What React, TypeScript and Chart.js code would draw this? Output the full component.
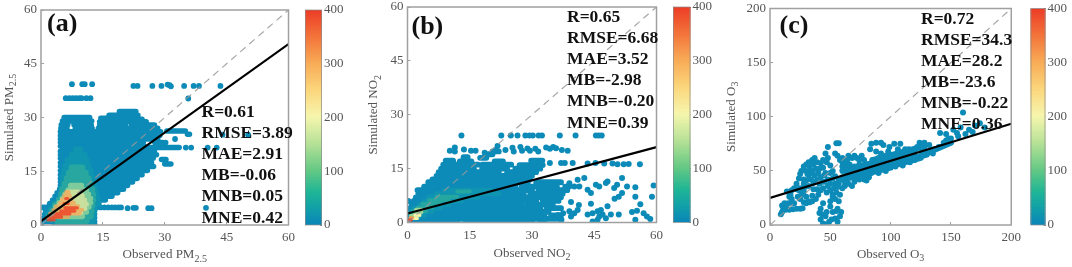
import React, { useEffect, useRef } from "react";
import { Chart, registerables } from "chart.js";

Chart.register(...registerables);

// ---------- colour scale ----------
const colorbarStops: [number, string][] = [
  [0, "#0b86b8"], [30, "#12a0a8"], [60, "#1fb596"], [100, "#63c884"], [150, "#b5e196"],
  [200, "#f6f6ae"], [250, "#fbd67c"], [300, "#f8ab57"], [350, "#f3733a"], [400, "#ec3b26"],
];
const colorbarTicks = [0, 100, 200, 300, 400];
const colorbarSegments = 100;

// ---------- panel (a) PM2.5: rows of dense dots [y, xFrom, xTo] ----------
const aBlueRows: number[][] = [
  [31.7, 19, 23], [30.6, 16.5, 23.5], [30, 5.6, 11.8], [29.8, 14.5, 18], [29.5, 19, 24.5],
  [29, 5.2, 12.3], [28.8, 14.2, 25.5], [28, 4.9, 6.5], [28, 8, 12.2], [27.9, 14.2, 20.5], [27.9, 22, 27.5],
  [27, 4.8, 6.3], [27, 8.3, 12.4], [27, 13.9, 28.3], [26, 4.7, 29], [25, 4.7, 28.8], [26.2, 30.5, 35], [25.3, 35.5, 36],
  [24, 4.7, 28.3], [23, 4.7, 24.8], [23, 27.6, 29.5], [22, 4.7, 25], [21.6, 25, 33.5],
  [20.6, 4.7, 27.5], [19.6, 4.7, 28], [18.6, 4.7, 27.2], [18.3, 29.2, 30.3], [17.4, 4.7, 26.8], [17, 30, 31.5],
  [16.3, 4.7, 27.3], [15.2, 4.7, 25.8], [14, 4.7, 24.5], [13, 4.7, 23.3], [12, 4.7, 22.2], [11, 4.7, 21],
  [10, 4.5, 20], [9, 3.9, 18.6], [8, 3.4, 17.2], [7, 2.8, 15.6], [6, 2.1, 14], [5, 1.6, 13], [4, 1.1, 13],
  [3, 0.9, 13], [2, 0.7, 13], [1, 1.2, 13], [0.3, 3.2, 13],
];
const aTealRows: number[][] = [
  [21, 8.5, 9.5], [19.5, 7.5, 10.5], [18, 6.5, 11], [16.5, 6, 11.5], [15, 5.6, 12], [13.5, 5.3, 12.3], [12, 5.2, 12.8],
  [10.5, 5, 13], [9, 4.8, 13.3], [7.5, 4.4, 13.6], [6, 3.4, 14], [4.5, 2.4, 13], [3, 1.6, 12.8], [1.5, 1.8, 12.5], [0.5, 4, 12.4],
];
const aGreenRows: number[][] = [
  [16, 7.5, 10], [14.5, 6.8, 10.8], [13, 6.3, 11.5], [11.5, 5.8, 12], [10, 5.2, 12.4], [8.5, 5, 12.6],
  [7, 4.4, 12.6], [5.5, 3.4, 12.4], [4, 2.8, 12.2], [2.5, 2.6, 12], [1.2, 4, 11],
];
const aPaleRows: number[][] = [
  [11, 7.2, 9.8], [9.8, 6.6, 11], [8.6, 5.8, 11.5], [7.4, 5.2, 12], [6.2, 4.4, 12], [5, 3.6, 11.6], [3.6, 3.6, 11], [2.4, 4.4, 10],
];
const aYellowRows: number[][] = [
  [9.2, 6.4, 9], [8.2, 6, 10], [7, 5.2, 10.6], [5.8, 4.6, 11], [4.6, 4.4, 10.6], [3.4, 5.6, 9.6],
];
const aOrangeRows: number[][] = [
  [9.2, 6.1, 6.7], [8.2, 5.6, 7], [7.2, 5.1, 7.4], [6.2, 4.6, 8], [5.2, 3.6, 9], [4.2, 3, 10], [3.2, 2.2, 9.4], [2.2, 1.6, 6.6],
];
const aRedRows: number[][] = [
  [7.4, 6, 6.5], [6, 5.6, 6.6], [4.8, 5.8, 8.8], [3.9, 4.8, 8.2], [3.1, 3.4, 7], [2.2, 2.2, 5], [1.4, 1.7, 3.2],
];
const aLoosePoints: number[][] = [
  [7.5, 39.3], [10, 39.3], [10.6, 39.3], [12.4, 39.3], [6, 35.4], [6.9, 35.4], [7.7, 35.4], [8.5, 35.4], [9.3, 35.4], [9.8, 35.4], [11, 35.4], [12, 35.4],
  [22.4, 38.8], [23.4, 38.8], [27, 38.8], [29.2, 38.8], [30.7, 39.2], [31.2, 39], [31.5, 38.7], [34.7, 38.8], [37, 38.8], [38.3, 38.8], [43.5, 38.8],
  [35.7, 35.3], [44, 25.2], [50.2, 25.2], [40.4, 21.6], [42.6, 21.6], [35.1, 21.6], [36.4, 21.6], [32.5, 24], [30.2, 23],
  [0.3, 4.9], [0.9, 4.9], [1.6, 4.9], [2.2, 4.9], [0.2, 0.4], [13.5, 4.9], [14.5, 4.9], [15.4, 4.9], [16.3, 4.9], [17.2, 4.9], [18, 4.9], [18.8, 4.9], [19.4, 4.9],
  [21, 4.7], [22.4, 4.8], [23, 4.8], [26, 4.7], [26.8, 4.7], [40, 4.8],
];
const aFit = [[0, 1.1], [60, 50.5]];

// ---------- panel (b) NO2 ----------
const bBlueRows: number[][] = [
  [18.2, 13.5, 14.5], [18, 17.5, 19], [17.2, 9.2, 11], [17, 12.6, 15.4], [17, 21, 23], [17.2, 29.8, 32.5], [16.1, 8.6, 17], [16.1, 18, 25], [16, 27, 32.6],
  [15, 8.1, 16], [15, 18, 24], [15, 26, 32], [14, 7.5, 22], [14, 24, 31], [13, 7, 30], [12, 6, 29.5], [11.2, 5, 29],
  [10, 4, 26], [11.2, 31, 37], [10, 27.5, 36], [10, 38, 39], [9, 2.4, 30], [9, 31.6, 33], [9, 34.2, 38.5],
  [8, 2.6, 28], [8, 29.6, 37.4], [7, 2, 37], [6, 1.5, 31], [6, 32.6, 36.4], [5, 1, 27.4], [5, 28.8, 35], [4, 0.6, 32], [4, 33.6, 37],
  [3, 0.3, 30], [3, 31, 34], [2, 0.2, 33], [2, 34.6, 37], [1, 0.1, 25], [1, 26, 37], [0.3, 0.5, 12], [0.3, 14, 30], [0.3, 32, 33],
  [19, 19.5, 20.5], [19.8, 20.5, 22],
];
const bTealRows: number[][] = [
  [9, 9, 20], [8, 7, 22], [7, 5, 17], [6, 4, 13], [5, 3, 10], [4, 1.5, 8], [3, 0.5, 6], [2, 0.3, 4],
];
const bGreenRows: number[][] = [
  [8.6, 12, 15], [7.2, 7, 12], [6.2, 5.2, 10], [5.2, 3.6, 8], [4.2, 2.5, 6], [3.2, 1.2, 4.5], [2.2, 0.8, 2.5],
];
const bPaleRows: number[][] = [
  [3.6, 2, 3.6], [2.8, 1.6, 3.4], [1.9, 0.8, 2.8],
];
const bYellowRows: number[][] = [
  [2, 1.8, 3], [1.1, 1.1, 2.4],
];
const bOrangeRows: number[][] = [[1.3, 0.6, 1.2]];
const bRedRows: number[][] = [[0.7, 0.4, 0.9]];
const bLoosePoints: number[][] = [
  [13, 24.2], [22.6, 24.2], [24.9, 24.2], [26.5, 24.2], [28.4, 24.2], [29.4, 24.2], [30.2, 24.2], [31.6, 24.2], [32.4, 24.2], [36.7, 24.2], [40.5, 24.2], [45.4, 24.2], [46.1, 24.2], [46.8, 24.2],
  [10.2, 20], [11.4, 20.9], [11.4, 19.8], [13.6, 20.3], [15.3, 20], [16.4, 20], [18.6, 19.4], [21.7, 21.3], [21.3, 20.2], [23.6, 20.2], [25.3, 20.8], [25.6, 19.8], [27.2, 21], [27.6, 20], [28.9, 20.6], [29.5, 20], [30.8, 20.5],
  [31.5, 19.8], [33.4, 20.9], [34.3, 20.5], [35.1, 21], [35.8, 20.7], [37.2, 20.2], [38.6, 20],
  [34.3, 16.6], [37, 16.6], [37.9, 16.6], [39.8, 16.6], [43.4, 16.4], [45.3, 16.6], [47.4, 16.4], [49.4, 16.4], [50.6, 16.2], [52.1, 16.2], [53.3, 16.3], [56, 16.2],
  [0.2, 6], [1.4, 4.4],
  [39, 10.95], [41, 11.9], [42.6, 12.4], [40.2, 10], [41.4, 10], [43.4, 9.1], [44.2, 8.2], [45.4, 10.5], [46.2, 10], [47.8, 11], [48.2, 11.4], [49.8, 9.6], [50.5, 10.5], [51.7, 12.4], [52.9, 10], [54.9, 9.8], [59.3, 10.3],
  [58.9, 7.2], [54.9, 7.2], [51.7, 8.2], [50.9, 7.2], [49.9, 6.6], [56.1, 5.1], [44.2, 5.2], [41.3, 4.9], [39.4, 5.7], [39, 3.1], [40.2, 2.6], [37.5, 2.6], [36.3, 2.1], [43.4, 2.2], [44.6, 2.6], [45.8, 3.1], [46.6, 3.5], [48.2, 4.5],
  [46.2, 1.7], [47.8, 1.2], [47, 2.2], [49, 2.2], [50.9, 2.2], [45.8, 0.8], [44.6, 0.3], [54.1, 2.9], [55.3, 3.3], [56.9, 2.6], [57.7, 1.7], [54.9, 0.8], [58.5, 1], [37.1, 0.8], [39.4, 1.7], [41, 3.5],
];
const bFit = [[0, 2.5], [60, 21]];

// ---------- panel (c) O3 ----------
const cBandSegments: number[][] = [
  [70, 45, 125, 62], [75, 48, 130, 65], [65, 47, 120, 64], [60, 50, 115, 66], [60, 42, 100, 53], [85, 60, 125, 72], [125, 64, 150, 76],
];
const cPoints: number[][] = [
  [9, 10], [10, 12], [11, 15], [13, 14], [16, 14], [19, 14.5], [22, 15], [25, 15], [27, 15.5], [14, 15], [10, 18], [12, 20], [15, 20], [18, 20.5], [20, 20],
  [16, 26], [18, 24], [14, 31], [18, 32], [22, 33], [25, 34], [28, 31], [26, 28], [30, 26], [32, 22], [35, 22], [28, 21], [30, 20], [33, 21], [35, 27], [38, 24], [40, 28], [25, 24], [23, 26],
  [22, 38], [24, 43], [25, 47], [26, 50], [28, 54], [30, 50], [32, 46], [34, 42], [36, 39], [30, 41], [28, 38], [33, 54], [35, 60], [37, 62], [36, 56], [38, 52], [40, 48], [42, 44], [39, 58], [42, 57], [44, 53], [46, 48], [47, 58], [48, 62],
  [50, 55], [52, 50], [45, 40], [48, 42], [50, 38], [52, 43], [54, 38], [56, 35], [44, 34], [47, 30], [50, 32], [52, 28], [55, 30], [58, 28], [60, 34], [62, 36], [65, 38], [68, 36], [70, 40],
  [46, 66], [48, 72], [55, 75.5], [57, 75.5], [54, 66], [56, 64], [58, 60], [60, 58], [62, 56], [64, 52], [66, 50], [68, 62], [70, 64], [72, 62], [74, 60], [76, 64], [66, 56], [70, 54], [72, 50], [75, 46], [78, 42], [80, 41], [82, 44], [78, 50], [82, 56],
  [85, 60], [88, 58], [84, 75], [88, 76], [92, 76], [94, 74], [83, 70], [88, 68], [92, 66], [96, 64], [98, 68], [100, 60], [103, 62], [99, 72], [103, 75], [108, 75], [112, 70], [110, 64], [115, 62], [118, 66], [122, 72], [124, 76], [128, 72], [132, 74], [136, 70], [130, 68], [135, 66],
  [140, 72], [141, 85], [146, 84], [152, 88], [155, 85], [160, 104], [158, 90], [165, 88], [170, 92], [174, 94], [178, 90], [150, 80], [146, 78], [156, 82], [162, 84], [168, 86],
  [44, 20], [42, 15], [41, 11], [42, 5], [44, 1.5], [46, 0.5], [49, 3], [51, 5], [54, 6], [56, 3], [58, 8], [59, 12], [55, 13], [52, 12], [50, 17], [50, 22], [52, 26], [54, 24], [57, 22], [46, 8], [47, 12], [43, 10], [56, 15],
  [28, 42], [31, 47], [33, 50], [35, 50], [37, 46], [39, 42], [41, 38], [43, 40], [45, 46], [41, 52], [44, 60], [50, 48], [54, 45], [57, 41], [60, 44], [63, 46], [67, 44], [30, 56], [32, 58], [34, 48], [62, 40], [72, 44], [74, 42],
  [17, 28], [20, 34], [24, 32], [29, 35], [32, 36], [36, 33], [39, 33], [42, 32], [48, 36], [53, 34], [57, 38], [60, 62], [64, 60], [65, 64], [60, 54], [74, 56], [78, 60], [80, 56], [90, 62], [95, 60], [106, 70], [115, 70], [120, 68], [126, 68], [128, 76], [144, 76], [148, 80],
  [104, 54], [110, 55], [116, 58], [120, 60], [96, 50], [90, 48], [84, 48], [78, 46], [125, 63], [130, 66],
];
const cFit = [[0, 25], [200, 93.5]];

// ---------- text ----------
const aStats = ["R=0.61", "RMSE=3.89", "MAE=2.91", "MB=-0.06", "MNB=0.05", "MNE=0.42"];
const bStats = ["R=0.65", "RMSE=6.68", "MAE=3.52", "MB=-2.98", "MNB=-0.20", "MNE=0.39"];
const cStats = ["R=0.72", "RMSE=34.3", "MAE=28.2", "MB=-23.6", "MNB=-0.22", "MNE=0.36"];

const SERIF = '"Liberation Serif", serif';
const TICK = "#555";
const BOX = "#a0a0a0";
const DOT = "#0d8bb8";

function colorAt(v: number, alpha = 1): string {
  const hex = (s: string) => [1, 3, 5].map((i) => parseInt(s.slice(i, i + 2), 16));
  for (let i = 1; i < colorbarStops.length; i++) {
    const [v0, c0] = colorbarStops[i - 1];
    const [v1, c1] = colorbarStops[i];
    if (v <= v1) {
      const t = (v - v0) / (v1 - v0);
      const a = hex(c0), b = hex(c1);
      return `rgba(${a.map((x, k) => Math.round(x + (b[k] - x) * t)).join(",")},${alpha})`;
    }
  }
  return colorbarStops[colorbarStops.length - 1][1];
}

const rowsToPoints = (rows: number[][]) =>
  rows.flatMap(([y, x0, x1]) => [{ x: x0, y }, { x: x1, y }, { x: NaN, y: NaN }]);
const segsToPoints = (segs: number[][]) =>
  segs.flatMap(([x0, y0, x1, y1]) => [{ x: x0, y: y0 }, { x: x1, y: y1 }, { x: NaN, y: NaN }]);
const pairs = (p: number[][]) => p.map(([x, y]) => ({ x, y }));

const strokeSet = (label: string, data: any[], color: string, width: number) => ({
  type: "scatter" as const,
  label,
  data,
  showLine: true,
  borderColor: color,
  borderWidth: width,
  borderCapStyle: "round" as const,
  pointRadius: 0,
  spanGaps: false,
});
const dotSet = (label: string, data: any[], r: number) => ({
  type: "scatter" as const,
  label,
  data,
  showLine: false,
  pointRadius: r,
  pointBackgroundColor: DOT,
  pointBorderWidth: 0,
});

type Panel = {
  key: string;
  letter: string;
  xMain: string;
  yMain: string;
  sub: string;
  max: number;
  step: number;
  left: number;
  right: number;
  top: number;
  bottom: number;
  barLeft: number;
  barRight: number;
  statX: number;
  statY: number;
  letterX: number;
  letterY: number;
  titleY: number;
  yTitleX: number;
  stats: string[];
  fit: number[][];
  layers: any[];
};

const panels: Panel[] = [
  {
    key: "a", letter: "(a)", xMain: "Observed PM", yMain: "Simulated PM", sub: "2.5", max: 60, step: 15,
    left: 41, right: 292, top: 10, bottom: 225, barLeft: 305, barRight: 322,
    statX: 201.5, statY: 112.5, letterX: 47, letterY: 24, yTitleX: 12.5, titleY: 258, stats: aStats, fit: aFit,
    layers: [
      strokeSet("a blue", rowsToPoints(aBlueRows), DOT, 5.5),
      dotSet("a loose", pairs(aLoosePoints), 2.9),
      strokeSet("a teal", rowsToPoints(aTealRows), colorAt(35, 0.4), 6.5),
      strokeSet("a green", rowsToPoints(aGreenRows), colorAt(85, 0.42), 6.5),
      strokeSet("a pale", rowsToPoints(aPaleRows), colorAt(155, 0.6), 5.5),
      strokeSet("a yellow", rowsToPoints(aYellowRows), colorAt(215, 0.6), 5),
      strokeSet("a orange", rowsToPoints(aOrangeRows), colorAt(310, 0.7), 4),
      strokeSet("a red", rowsToPoints(aRedRows), colorAt(390, 0.85), 3.2),
    ],
  },
  {
    key: "b", letter: "(b)", xMain: "Observed NO", yMain: "Simulated NO", sub: "2", max: 60, step: 15,
    left: 407.5, right: 659.5, top: 7, bottom: 222.5, barLeft: 673, barRight: 690.5,
    statX: 567, statY: 17.5, letterX: 411.5, letterY: 27, yTitleX: 377, titleY: 256.5, stats: bStats, fit: bFit,
    layers: [
      strokeSet("b blue", rowsToPoints(bBlueRows), DOT, 5.8),
      dotSet("b loose", pairs(bLoosePoints), 3),
      strokeSet("b teal", rowsToPoints(bTealRows), colorAt(30, 0.45), 5),
      strokeSet("b green", rowsToPoints(bGreenRows), colorAt(80, 0.45), 4),
      strokeSet("b pale", rowsToPoints(bPaleRows), colorAt(150, 0.8), 3.5),
      strokeSet("b yellow", rowsToPoints(bYellowRows), colorAt(205), 3),
      strokeSet("b orange", rowsToPoints(bOrangeRows), colorAt(320), 3),
      strokeSet("b red", rowsToPoints(bRedRows), colorAt(395), 3),
    ],
  },
  {
    key: "c", letter: "(c)", xMain: "Observed O", yMain: "Simulated O", sub: "3", max: 200, step: 50,
    left: 770, right: 1013.5, top: 8.5, bottom: 225, barLeft: 1030.5, barRight: 1045.5,
    statX: 921, statY: 19, letterX: 779.5, letterY: 26, yTitleX: 734.5, titleY: 257.5, stats: cStats, fit: cFit,
    layers: [
      strokeSet("c band", segsToPoints(cBandSegments), DOT, 6),
      dotSet("c points", pairs(cPoints), 3),
    ],
  },
];

const OFFSET_Y = 12;

function drawWithSub(ctx: CanvasRenderingContext2D, main: string, sub: string, cx: number, cy: number) {
  ctx.textBaseline = "alphabetic";
  ctx.textAlign = "left";
  ctx.font = `13px ${SERIF}`;
  const mw = ctx.measureText(main).width;
  ctx.font = `10px ${SERIF}`;
  const sw = ctx.measureText(sub).width;
  const start = cx - (mw + sw) / 2;
  ctx.font = `13px ${SERIF}`;
  ctx.fillText(main, start, cy);
  ctx.font = `10px ${SERIF}`;
  ctx.fillText(sub, start + mw, cy + 3.5);
}

function PanelChart({ p }: { p: Panel }) {
  const ref = useRef<HTMLCanvasElement>(null);
  const x0 = Math.floor(p.left - 48);
  const width = Math.ceil(p.barLeft - 2 - x0);
  useEffect(() => {
    const height = 267 + OFFSET_Y;
    const decor = {
      id: "decor",
      afterDatasetsDraw(chart: any) {
        const { ctx, chartArea: ca } = chart;
        ctx.save();
        ctx.strokeStyle = BOX;
        ctx.lineWidth = 1.5;
        ctx.strokeRect(ca.left, ca.top, ca.right - ca.left, ca.bottom - ca.top);
        ctx.fillStyle = "#111";
        ctx.font = `bold 17.5px ${SERIF}`;
        ctx.textAlign = "left";
        ctx.textBaseline = "middle";
        p.stats.forEach((s, i) => {
          ctx.fillText(s, p.statX - x0, p.statY + OFFSET_Y + i * 21.1);
        });
        ctx.font = `bold 26px ${SERIF}`;
        ctx.fillText(p.letter, p.letterX - x0, p.letterY + OFFSET_Y);
        ctx.fillStyle = TICK;
        drawWithSub(ctx, p.xMain, p.sub, (ca.left + ca.right) / 2, p.titleY + OFFSET_Y);
        ctx.translate(p.yTitleX - x0, (ca.top + ca.bottom) / 2);
        ctx.rotate(-Math.PI / 2);
        drawWithSub(ctx, p.yMain, p.sub, 0, 0);
        ctx.restore();
      },
    };
    const chart = new Chart(ref.current!, {
      type: "scatter",
      data: {
        // Chart.js paints the first dataset last, so the list runs from top layer to bottom layer.
        datasets: [
          {
            type: "scatter", label: "fit", data: pairs(p.fit), showLine: true,
            borderColor: "#000", borderWidth: 2.2, pointRadius: 0,
          },
          {
            type: "scatter", label: "1:1", data: [{ x: 0, y: 0 }, { x: p.max, y: p.max }], showLine: true,
            borderColor: "rgba(150,150,150,0.85)", borderWidth: 1.2, borderDash: [7, 5], pointRadius: 0,
          },
          ...[...p.layers].reverse(),
        ] as any,
      },
      options: {
        animation: false,
        responsive: false,
        events: [],
        layout: {
          padding: { left: 0, right: width - (p.right - x0), top: p.top + OFFSET_Y, bottom: 0 },
        },
        plugins: { legend: { display: false }, tooltip: { enabled: false } },
        scales: {
          x: {
            type: "linear", min: 0, max: p.max,
            border: { display: false },
            grid: { drawOnChartArea: false, drawTicks: true, tickLength: -3, color: BOX },
            ticks: { stepSize: p.step, color: TICK, font: { family: SERIF, size: 13 }, padding: 8, maxRotation: 0 },
            afterFit: (s: any) => { s.height = height - (p.bottom + OFFSET_Y); },
          },
          y: {
            type: "linear", min: 0, max: p.max,
            border: { display: false },
            grid: { drawOnChartArea: false, drawTicks: true, tickLength: -3, color: BOX },
            ticks: { stepSize: p.step, color: TICK, font: { family: SERIF, size: 13 }, padding: 7 },
            afterFit: (s: any) => { s.width = p.left - x0; },
          },
        },
      } as any,
      plugins: [decor],
    });
    return () => chart.destroy();
  }, [p]);
  return (
    <canvas
      ref={ref}
      width={width}
      height={267 + OFFSET_Y}
      style={{ position: "absolute", left: x0, top: -OFFSET_Y, width, height: 267 + OFFSET_Y }}
    />
  );
}

function ColorBar({ p }: { p: Panel }) {
  const ref = useRef<HTMLCanvasElement>(null);
  const x0 = Math.floor(p.barLeft);
  const barW = p.barRight - p.barLeft;
  const width = Math.ceil(barW) + 33;
  useEffect(() => {
    const seg = 400 / colorbarSegments;
    const datasets = Array.from({ length: colorbarSegments }, (_, i) => ({
      label: String(i),
      data: [seg],
      backgroundColor: colorAt(i * seg + seg / 2),
      borderWidth: 0,
      barPercentage: 1,
      categoryPercentage: 1,
      stack: "cb",
      inflateAmount: 0.6,
    }));
    const frame = {
      id: "frame",
      afterDatasetsDraw(chart: any) {
        const { ctx, chartArea: ca } = chart;
        ctx.save();
        ctx.strokeStyle = "rgba(140,140,140,0.7)";
        ctx.lineWidth = 1;
        ctx.strokeRect(ca.left + 0.5, ca.top, ca.right - ca.left - 1, ca.bottom - ca.top);
        ctx.restore();
      },
    };
    const chart = new Chart(ref.current!, {
      type: "bar",
      data: { labels: [""], datasets },
      options: {
        animation: false,
        responsive: false,
        events: [],
        layout: { padding: { left: p.barLeft - x0, right: 0, top: p.top + OFFSET_Y, bottom: 267 - p.bottom } },
        plugins: { legend: { display: false }, tooltip: { enabled: false } },
        scales: {
          x: { display: false, stacked: true },
          y: {
            position: "right", min: 0, max: 400, stacked: true,
            afterBuildTicks: (s: any) => { s.ticks = colorbarTicks.map((value) => ({ value })); },
            border: { display: false },
            grid: { drawOnChartArea: false, drawTicks: true, tickLength: -2, color: "#888" },
            ticks: { color: TICK, font: { family: SERIF, size: 13 }, padding: 4 },
            afterFit: (s: any) => { s.width = width - (p.barRight - x0); },
          },
        },
      } as any,
      plugins: [frame],
    });
    return () => chart.destroy();
  }, [p]);
  return (
    <canvas
      ref={ref}
      width={width}
      height={267 + OFFSET_Y}
      style={{ position: "absolute", left: x0, top: -OFFSET_Y, width, height: 267 + OFFSET_Y }}
    />
  );
}

export default function App() {
  return (
    <div
      style={{
        position: "absolute", left: 0, top: 0, width: 1072, height: 267, overflow: "hidden",
        background: "#fff", filter: "blur(0.45px)",
      }}
    >
      {panels.map((p) => (
        <React.Fragment key={p.key}>
          <PanelChart p={p} />
          <ColorBar p={p} />
        </React.Fragment>
      ))}
    </div>
  );
}
